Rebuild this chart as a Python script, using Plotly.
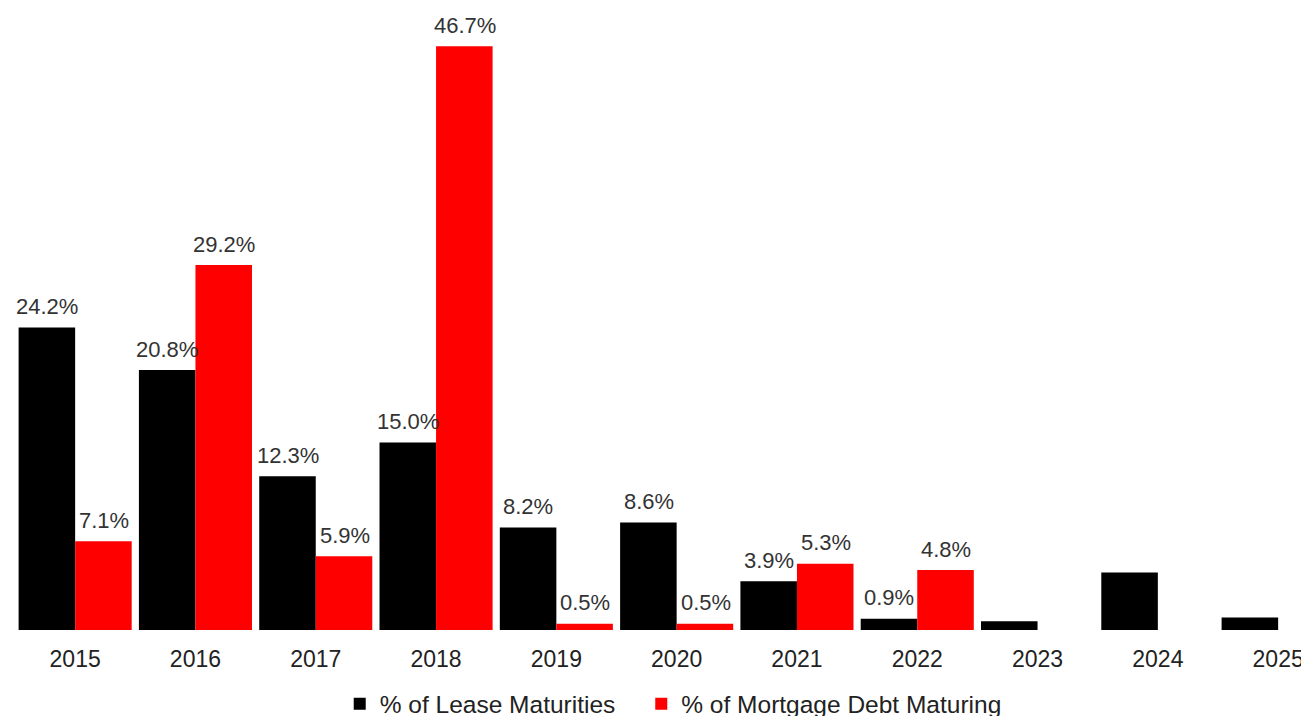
import plotly.graph_objects as go

years = ["2015", "2016", "2017", "2018", "2019", "2020", "2021", "2022", "2023", "2024", "2025"]
lease = [24.2, 20.8, 12.3, 15.0, 8.2, 8.6, 3.9, 0.9, 0.7, 4.6, 1.0]
lease_labels = ["24.2%", "20.8%", "12.3%", "15.0%", "8.2%", "8.6%", "3.9%", "0.9%", "", "", ""]
mortgage = [7.1, 29.2, 5.9, 46.7, 0.5, 0.5, 5.3, 4.8, None, None, None]
mortgage_labels = ["7.1%", "29.2%", "5.9%", "46.7%", "0.5%", "0.5%", "5.3%", "4.8%", "", "", ""]

font_family = "Liberation Sans, Arial, sans-serif"
label_font = dict(size=22, color="#333333", family=font_family)
legend_font = dict(size=24.5, color="#222222", family=font_family)

fig = go.Figure()
fig.add_trace(go.Bar(
    x=years, y=lease, name="% of Lease Maturities",
    marker=dict(color="#000000", line=dict(width=0)), legend="legend",
))
fig.add_trace(go.Bar(
    x=years, y=mortgage, name="% of Mortgage Debt Maturing",
    marker=dict(color="#FF0000", line=dict(width=0)), legend="legend2",
))

# value labels above bars (category index + pixel offset to each bar of the group)
for i, (v, lab) in enumerate(zip(lease, lease_labels)):
    if lab:
        fig.add_annotation(x=i, y=v, text=lab, showarrow=False, xshift=-28,
                           yshift=21, yanchor="middle", font=label_font)
for i, (v, lab) in enumerate(zip(mortgage, mortgage_labels)):
    if lab and v is not None:
        fig.add_annotation(x=i, y=v, text=lab, showarrow=False, xshift=29,
                           yshift=21, yanchor="middle", font=label_font)

fig.update_layout(
    width=1309, height=716,
    barmode="group", bargap=0.06, bargroupgap=0,
    plot_bgcolor="white", paper_bgcolor="white",
    margin=dict(l=7, r=0, t=2, b=94, autoexpand=False),
    font=dict(family=font_family, size=22, color="#333333"),
    xaxis=dict(type="category", range=[-0.5, 10.323], showline=False, showgrid=False,
               ticks="", tickfont=dict(size=23, color="#222222"), ticklabelstandoff=13,
               automargin=False),
    yaxis=dict(range=[0, 49.6], visible=False, showgrid=False, zeroline=False,
               automargin=False),
    legend=dict(orientation="h", x=0.2494, xanchor="left", y=-0.119, yanchor="middle",
                font=legend_font, itemwidth=30, bgcolor="rgba(0,0,0,0)"),
    legend2=dict(orientation="h", x=0.481, xanchor="left", y=-0.119, yanchor="middle",
                 font=legend_font, itemwidth=30, bgcolor="rgba(0,0,0,0)"),
    showlegend=True,
)

fig.write_html("out.html")
